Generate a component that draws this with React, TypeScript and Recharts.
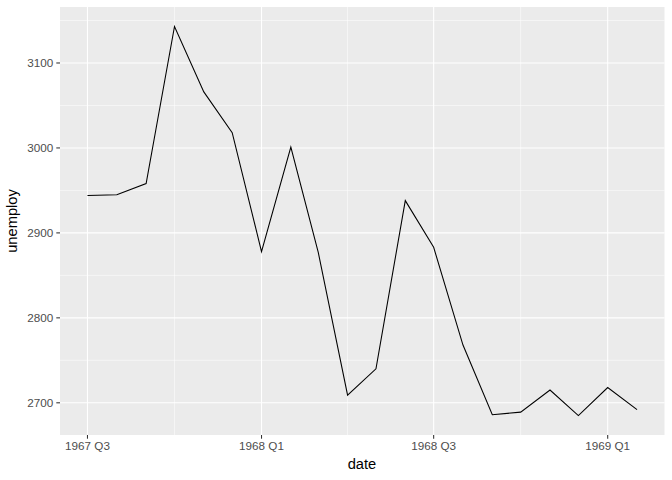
import React from 'react';
import { LineChart, Line, XAxis, YAxis, CartesianGrid } from 'recharts';

// monthly values
const dates = [
  '1967-07-01', '1967-08-01', '1967-09-01', '1967-10-01', '1967-11-01', '1967-12-01',
  '1968-01-01', '1968-02-01', '1968-03-01', '1968-04-01', '1968-05-01', '1968-06-01',
  '1968-07-01', '1968-08-01', '1968-09-01', '1968-10-01', '1968-11-01', '1968-12-01',
  '1969-01-01', '1969-02-01',
];
const unemploy = [
  2944, 2945, 2958, 3143, 3066, 3018,
  2878, 3001, 2877, 2709, 2740, 2938,
  2883, 2768, 2686, 2689, 2715, 2685,
  2718, 2692,
];

const tickDates = ['1967-07-01', '1968-01-01', '1968-07-01', '1969-01-01'];
const tickLabels = ['1967 Q3', '1968 Q1', '1968 Q3', '1969 Q1'];
const minorDates = ['1967-10-01', '1968-04-01', '1968-10-01'];
const yTicks = [2700, 2800, 2900, 3000, 3100];
const yMinor = [2750, 2850, 2950, 3050, 3150];

const DAY = 86400000;
const origin = Date.UTC(1967, 6, 1);
const toDay = (s: string) => {
  const [y, m, d] = s.split('-').map(Number);
  return Math.round((Date.UTC(y, m - 1, d) - origin) / DAY);
};

const data = dates.map((d, i) => ({ x: toDay(d), unemploy: unemploy[i] }));
const xTicks = tickDates.map(toDay);
const xMinor = minorDates.map(toDay);

const xMin = data[0].x;
const xMax = data[data.length - 1].x;
const xPad = (xMax - xMin) * 0.05;
const yLo = Math.min(...unemploy);
const yHi = Math.max(...unemploy);
const yPad = (yHi - yLo) * 0.05;

const W = 672;
const H = 480;
const margin = { top: 7, right: 7.5, bottom: 0, left: 0 };
const font = '"Liberation Sans", Arial, sans-serif';

export default function App() {
  const labelFor = (v: number) => tickLabels[xTicks.indexOf(v)] ?? '';
  return (
    <div style={{ position: 'absolute', left: 0, top: 0, width: W, height: H, background: '#fff', fontFamily: font }}>
      <LineChart width={W} height={H} data={data} margin={margin}>
        <CartesianGrid
          fill="#EBEBEB"
          stroke="#FFFFFF"
          strokeWidth={0.53}
          horizontalValues={yMinor}
          verticalValues={xMinor}
        />
        <CartesianGrid
          stroke="#FFFFFF"
          strokeWidth={1.07}
          horizontalValues={yTicks}
          verticalValues={xTicks}
        />
        <XAxis
          dataKey="x"
          type="number"
          domain={[xMin - xPad, xMax + xPad]}
          ticks={xTicks}
          tickFormatter={labelFor}
          axisLine={false}
          tickLine={{ stroke: '#333333', strokeWidth: 1.07 }}
          tickSize={3.7}
          tickMargin={3}
          height={45}
          interval={0}
          tick={{ fill: '#4D4D4D', fontSize: 11.7, fontFamily: font }}
          allowDataOverflow
        />
        <YAxis
          type="number"
          domain={[yLo - yPad, yHi + yPad]}
          ticks={yTicks}
          axisLine={false}
          tickLine={{ stroke: '#333333', strokeWidth: 1.07 }}
          tickSize={3.7}
          tickMargin={3}
          width={60}
          interval={0}
          tick={{ fill: '#4D4D4D', fontSize: 11.7, fontFamily: font }}
          allowDataOverflow
        />
        <Line
          type="linear"
          dataKey="unemploy"
          stroke="#000000"
          strokeWidth={1.07}
          dot={false}
          isAnimationActive={false}
        />
      </LineChart>
      <div style={{ position: 'absolute', left: 312, width: 100, top: 456, textAlign: 'center', fontSize: 14.7, color: '#000' }}>
        date
      </div>
      <div
        style={{
          position: 'absolute',
          left: 12,
          top: 221,
          transform: 'translate(-50%, -50%) rotate(-90deg)',
          fontSize: 14.7,
          color: '#000',
          whiteSpace: 'nowrap',
        }}
      >
        unemploy
      </div>
    </div>
  );
}
